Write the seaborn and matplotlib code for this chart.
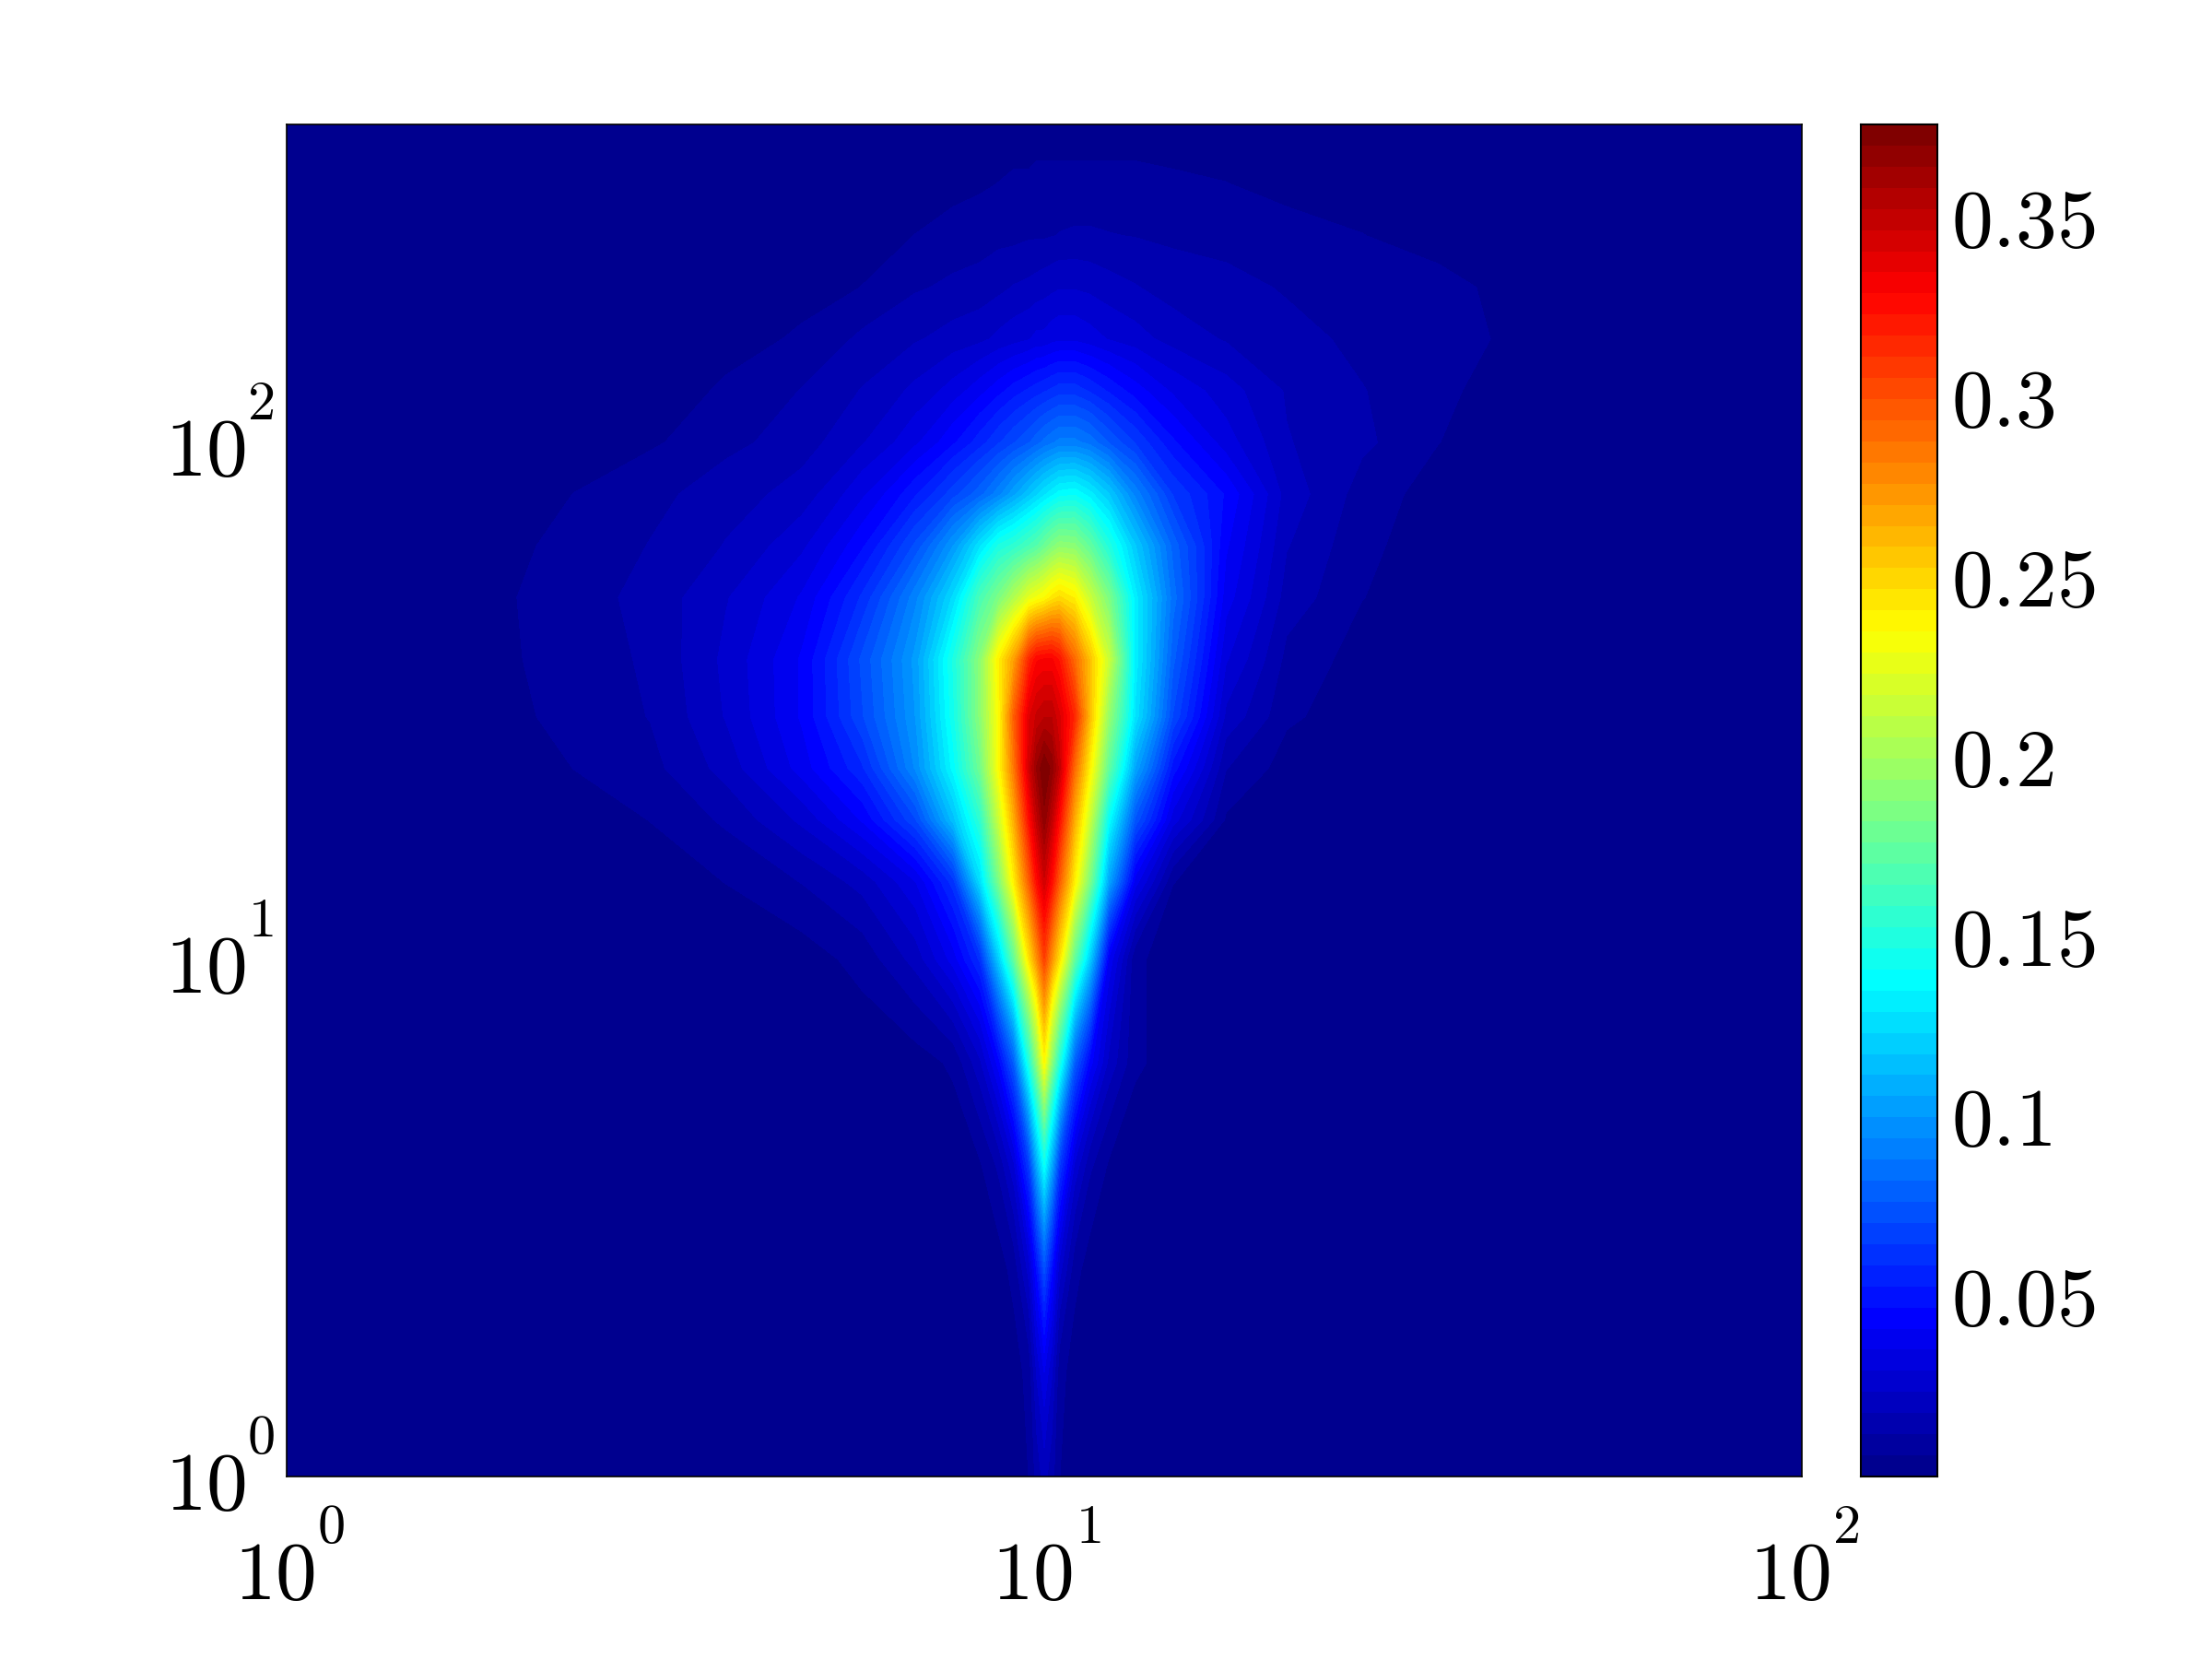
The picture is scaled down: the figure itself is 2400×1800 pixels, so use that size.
import matplotlib
matplotlib.use("Agg")
import matplotlib.pyplot as plt
import matplotlib.transforms as mtrans
from matplotlib.colors import LinearSegmentedColormap
import numpy as np
import seaborn as sns

# decades away from 10^1 along x
x_offset = [-1, -.72, -.62, -.52, -.42, -.32, -.24, -.17, -.12, -.085, -.06, -.04, -.02, -.01, 0,
            .01, .02, .04, .06, .085, .12, .17, .24, .32, .42, .52, .6, .7, 1]
# log10 of y
y_decade = [0, .2, .4, .6, .8, 1.0, 1.15, 1.27, 1.37, 1.47, 1.58, 1.7, 1.8, 1.9, 2.0, 2.1, 2.2, 2.3, 2.4, 2.5, 2.615]

# values, in thousandths, one row per y_decade
z_rows = [
    [2, 2, 2, 2, 2, 2, 2, 2, 2, 2, 2, 2, 6, 14, 20, 14, 6, 2, 2, 2, 2, 2, 2, 2, 2, 2, 2, 2, 2],
    [2, 2, 2, 2, 2, 2, 2, 2, 2, 2, 2, 3, 8, 24, 35, 24, 8, 3, 2, 2, 2, 2, 2, 2, 2, 2, 2, 2, 2],
    [2, 2, 2, 2, 2, 2, 2, 2, 2, 2, 3, 8, 26, 48, 72, 48, 26, 8, 3, 2, 2, 2, 2, 2, 2, 2, 2, 2, 2],
    [2, 2, 2, 2, 2, 2, 2, 2, 2, 5, 13, 28, 65, 105, 140, 105, 65, 28, 13, 5, 2, 2, 2, 2, 2, 2, 2, 2, 2],
    [2, 2, 2, 2, 2, 2, 2, 3, 7, 22, 44, 78, 150, 190, 235, 190, 150, 78, 44, 22, 7, 3, 2, 2, 2, 2, 2, 2, 2],
    [2, 2, 2, 2, 2, 3, 8, 20, 38, 60, 120, 175, 245, 275, 305, 275, 245, 175, 120, 40, 7, 3, 2, 2, 2, 2, 2, 2, 2],
    [2, 2, 2, 3, 6, 12, 20, 35, 62, 125, 185, 240, 295, 325, 345, 325, 295, 240, 185, 105, 38, 6, 3, 2, 2, 2, 2, 2, 2],
    [2, 2, 3, 6, 13, 25, 42, 70, 115, 155, 215, 265, 325, 350, 368, 350, 325, 265, 215, 140, 75, 32, 5, 2, 2, 2, 2, 2, 2],
    [2, 2, 6, 10, 20, 38, 58, 95, 138, 180, 235, 285, 345, 365, 376, 368, 350, 290, 240, 175, 105, 50, 12, 3, 2, 2, 2, 2, 2],
    [2, 4, 8, 12, 24, 42, 70, 100, 145, 190, 235, 295, 340, 348, 352, 352, 342, 315, 260, 195, 128, 70, 22, 7, 2, 2, 2, 2, 2],
    [2, 5, 8, 13, 25, 42, 72, 102, 148, 190, 240, 270, 315, 328, 330, 330, 322, 290, 258, 215, 133, 78, 30, 10, 3, 2, 2, 2, 2],
    [2, 5, 9, 14, 23, 36, 60, 92, 125, 165, 185, 205, 225, 230, 235, 243, 248, 240, 215, 185, 132, 85, 38, 15, 6, 2, 2, 2, 2],
    [2, 4, 8, 12, 18, 28, 46, 72, 100, 128, 148, 155, 165, 170, 178, 186, 192, 190, 175, 150, 118, 80, 42, 18, 7, 3, 2, 2, 2],
    [2, 2, 6, 10, 15, 20, 34, 52, 68, 80, 92, 104, 116, 122, 128, 133, 138, 140, 132, 118, 92, 64, 46, 21, 9, 3, 2, 2, 2],
    [2, 2, 2, 5, 10, 15, 23, 34, 46, 56, 64, 70, 76, 80, 84, 87, 90, 90, 86, 76, 64, 48, 32, 18, 13, 6, 2, 2, 2],
    [2, 2, 2, 2, 7, 12, 18, 25, 32, 39, 45, 50, 54, 56, 58, 60, 62, 62, 58, 52, 44, 34, 26, 17, 12, 7, 4, 2, 2],
    [2, 2, 2, 2, 3, 7, 13, 17, 20, 22, 25, 27, 29, 31, 31, 33, 34, 34, 32, 29, 26, 21, 17, 14, 10, 8, 5.5, 2, 2],
    [2, 2, 2, 2, 2, 3, 6, 11, 13, 14, 16, 18, 19, 20, 21, 22, 23, 23, 22, 20, 18, 15, 14, 11, 9, 8, 4.5, 2, 2],
    [2, 2, 2, 2, 2, 2, 3, 6, 8, 9, 10, 10, 11, 11, 11, 11.5, 12, 12.5, 12.5, 12, 11.5, 10.5, 9, 8, 6, 3, 2, 2, 2],
    [2, 2, 2, 2, 2, 2, 2, 2, 4, 5, 6, 7, 7, 8, 8, 8, 8, 8, 8, 8, 8, 7, 6, 4, 3, 2, 2, 2, 2],
    [2, 2, 2, 2, 2, 2, 2, 2, 2, 2, 2, 2, 2, 2, 2, 2, 2, 2, 2, 2, 2, 2, 2, 2, 2, 2, 2, 2, 2],
]

colorbar_ticks = [0.05, 0.1, 0.15, 0.2, 0.25, 0.3, 0.35]
colorbar_labels = ["0.05", "0.1", "0.15", "0.2", "0.25", "0.3", "0.35"]
tick_values = [1, 10, 100]
tick_exponents = ["0", "1", "2"]

z_max = 0.376
n_bands = 64

sns.set_style("ticks")
plt.rcParams["mathtext.fontset"] = "cm"
plt.rcParams["font.family"] = ["DejaVu Serif"]
plt.rcParams["text.color"] = "black"
plt.rcParams["ytick.labelcolor"] = "black"

# matlab flavour of jet, starts lighter than matplotlib's one
jet64 = LinearSegmentedColormap.from_list("jet64", [
    (0.0, (0, 0, 0.5625)), (7 / 63, (0, 0, 1)), (23 / 63, (0, 1, 1)),
    (39.5 / 63, (1, 1, 0)), (55.5 / 63, (1, 0, 0)), (1.0, (0.5, 0, 0))], N=n_bands)

X = 10 ** (1 + np.array(x_offset))
Y = 10 ** np.array(y_decade)
Z = np.array(z_rows) / 1000

fig = plt.figure(figsize=(8, 6), dpi=300)
ax = fig.add_axes([311 / 2400, 1 - 1602 / 1800, 1644 / 2400, 1467 / 1800])
cax = fig.add_axes([2019 / 2400, 1 - 1602 / 1800, 83 / 2400, 1467 / 1800])

levels = np.linspace(0, z_max, n_bands + 1)
ax.contourf(X, Y, Z, levels=levels, cmap=jet64, antialiased=False)
ax.set_xscale("log")
ax.set_yscale("log")
ax.set_xlim(1, 100)
ax.set_ylim(1, Y[-1])
ax.set_xticks(tick_values, ["", "", ""])
ax.set_yticks(tick_values, ["", "", ""])
ax.tick_params(axis="both", which="major", direction="in", length=0)
ax.tick_params(axis="both", which="minor", length=0)
for s in ax.spines.values():
    s.set_linewidth(0.4)
    s.set_color("black")


def px(n):
    # offsets below are measured in pixels of the 300 dpi image
    return n * 72 / 300


# the reference lifts the exponents higher than mathtext does, so "10" and exponent are two texts
for v, e in zip(tick_values, tick_exponents):
    ax.annotate("$10$", xy=(v, 0), xycoords=("data", "axes fraction"), xytext=(px(-13), px(-133)),
                textcoords="offset points", ha="center", va="baseline", fontsize=21.5)
    ax.annotate("$" + e + "$", xy=(v, 0), xycoords=("data", "axes fraction"), xytext=(px(48), px(-72)),
                textcoords="offset points", ha="center", va="baseline", fontsize=14.5)
    ax.annotate("$10$", xy=(0, v), xycoords=("axes fraction", "data"), xytext=(px(-88), px(-36)),
                textcoords="offset points", ha="center", va="baseline", fontsize=21.5)
    ax.annotate("$" + e + "$", xy=(0, v), xycoords=("axes fraction", "data"), xytext=(px(-28), px(25)),
                textcoords="offset points", ha="center", va="baseline", fontsize=14.5)

# colorbar strip, top band first
strip = (levels[:-1] + levels[1:])[::-1].reshape(-1, 1) / 2
sns.heatmap(strip, ax=cax, cmap=jet64, vmin=0, vmax=z_max, cbar=False,
            xticklabels=False, yticklabels=False)
for s in cax.spines.values():
    s.set_visible(True)
    s.set_linewidth(0.5)
    s.set_color("black")
tick_pos = [(z_max - v) / z_max * n_bands for v in colorbar_ticks]
cax.yaxis.tick_right()
cax.set_yticks(tick_pos, ["$" + t + "$" for t in colorbar_labels])
cax.tick_params(axis="y", which="major", direction="in", length=3.6, width=0.5,
                left=True, right=True, labelleft=False, labelright=True,
                labelsize=21.5, pad=3.5, labelrotation=0, labelcolor="black")
for lab in cax.get_yticklabels():
    lab.set_transform(lab.get_transform() + mtrans.ScaledTranslation(0, 3 / 300, fig.dpi_scale_trans))

plt.savefig("out.png", dpi=300)
plt.close()
